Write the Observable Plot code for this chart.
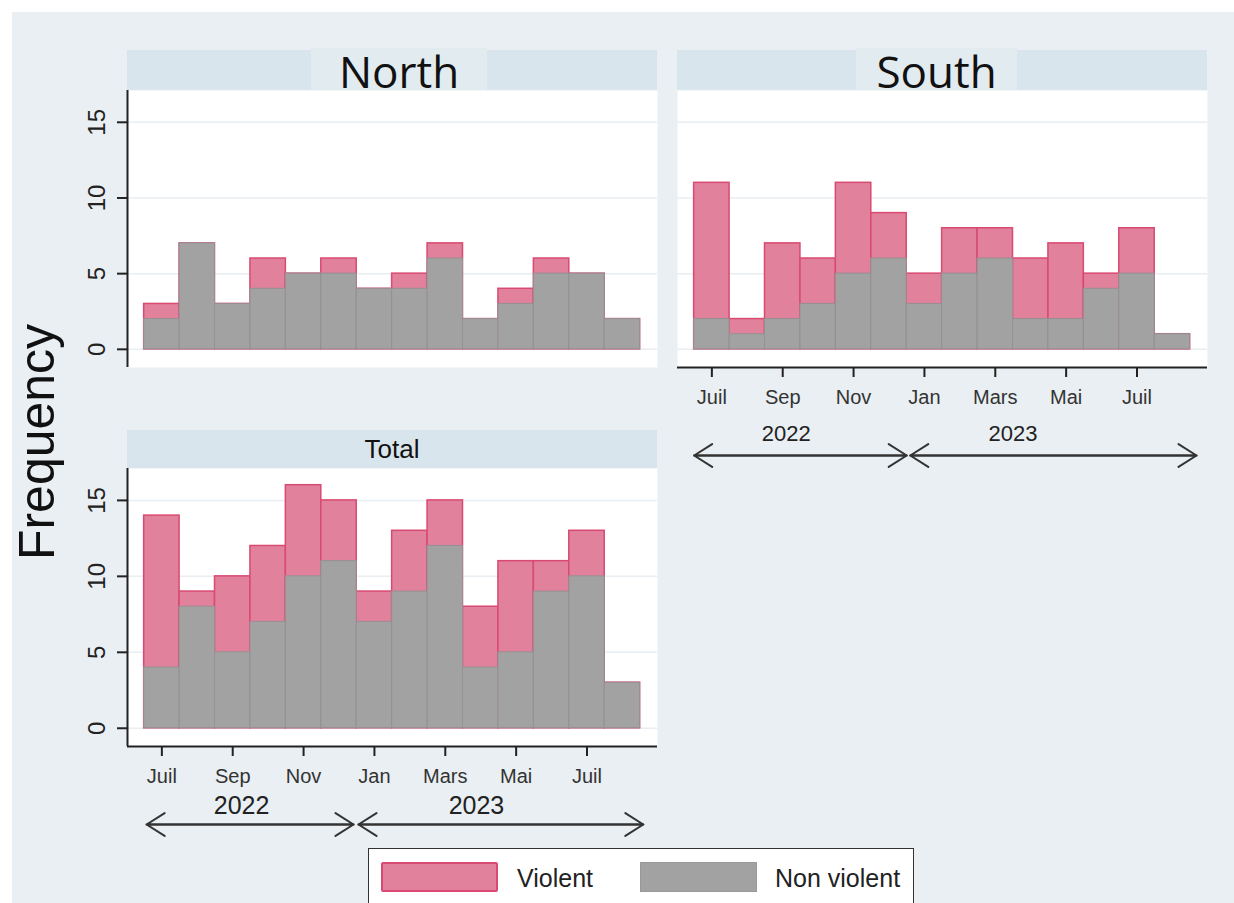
<!DOCTYPE html>
<html>
<head>
<meta charset="utf-8">
<script src="https://cdn.jsdelivr.net/npm/d3@7"></script>
<script src="https://cdn.jsdelivr.net/npm/@observablehq/plot@0.6"></script>
<style>
  html, body { margin: 0; padding: 0; background: #ffffff; width: 1234px; height: 903px; overflow: hidden; }
  #bg { position: absolute; left: 12px; top: 12px; width: 1222px; height: 891px; background: #e9eff2; }
  .strip { position: absolute; background: #d9e5ec; }
  .tbox { position: absolute; background: #e2ebf0; display: flex; align-items: center; justify-content: center;
          font-family: "Open Sans", "Noto Sans", sans-serif; font-size: 44px; color: #111; line-height: 1; }
  .tsmall { position: absolute; display: flex; align-items: center; justify-content: center;
          font-family: "Liberation Sans", Arial, sans-serif; font-size: 26px; color: #111; }
  .plotsvg { position: absolute; }
  #ylabel { position: absolute; left: 37px; top: 442px; transform: translate(-50%, -50%) rotate(-90deg);
            font-family: "Liberation Sans", Arial, sans-serif; font-size: 50px; color: #111; white-space: nowrap; }
  #legend { position: absolute; left: 368px; top: 848px; width: 546px; height: 62px; background: #fff;
            border: 1.5px solid #333; box-sizing: border-box; font-family: "Liberation Sans", Arial, sans-serif;
            font-size: 25px; color: #222; }
  .sw { position: absolute; top: 13px; height: 30px; box-sizing: border-box; }
  .lt { position: absolute; top: 14px; line-height: 30px; }
</style>
</head>
<body>
<div id="bg"></div>
<div id="root"></div>
<script>
// ---------------- data ----------------
const months = ["2022-07","2022-08","2022-09","2022-10","2022-11","2022-12","2023-01",
                "2023-02","2023-03","2023-04","2023-05","2023-06","2023-07","2023-08"];
// height of pink bars (all events, violent shown in pink above non violent)
const northAll        = [3, 7, 3, 6, 5, 6, 4, 5, 7, 2, 4, 6, 5, 2];
const northNonViolent = [2, 7, 3, 4, 5, 5, 4, 4, 6, 2, 3, 5, 5, 2];
const southAll        = [11, 2, 7, 6, 11, 9, 5, 8, 8, 6, 7, 5, 8, 1];
const southNonViolent = [2, 1, 2, 3, 5, 6, 3, 5, 6, 2, 2, 4, 5, 1];
const totalAll        = [14, 9, 10, 12, 16, 15, 9, 13, 15, 8, 11, 11, 13, 3];
const totalNonViolent = [4, 8, 5, 7, 10, 11, 7, 9, 12, 4, 5, 9, 10, 3];
const tickMonths = [0, 2, 4, 6, 8, 10, 12];
const tickLabels = ["Juil", "Sep", "Nov", "Jan", "Mars", "Mai", "Juil"];
const yTicks = [0, 5, 10, 15];
const years = ["2022", "2023"];
const panelTitles = ["North", "South", "Total"];
const legendLabels = ["Violent", "Non violent"];

// ---------------- style ----------------
const pinkFill = "#e1819b", pinkStroke = "#d94a72";
const grayFill = "#a2a2a2", grayStroke = "#978f93";
const xDomain = [-0.47, 14.49];
const yDomain = [-1.2, 17.1];
const font = "'Liberation Sans', Arial, sans-serif";

function panel({all, non, showY, showX, width, height, marginLeft, marginBottom,
                yearX, yearDy, yearSize, arrows, arrowDy}) {
  const data = months.map((m, i) => ({i, all: all[i], non: non[i]}));
  const marks = [
    Plot.frame({fill: "white", stroke: "none"}),
    Plot.ruleY(yTicks, {stroke: "#e8eef1", strokeWidth: 1.5}),
    Plot.rect(data, {x1: "i", x2: d => d.i + 1, y1: () => 0, y2: "all",
      fill: pinkFill, stroke: pinkStroke, strokeWidth: 1.5}),
    Plot.rect(data, {x1: "i", x2: d => d.i + 1, y1: () => 0, y2: "non",
      fill: grayFill, stroke: grayStroke, strokeWidth: 1})
  ];
  if (showY) {
    marks.push(Plot.ruleX([xDomain[0]], {stroke: "#222", strokeWidth: 2}));
    marks.push(Plot.axisY(yTicks, {tickSize: 10, tickPadding: 13, tickRotate: -90,
      fontSize: 24, fontFamily: font, fill: "#222", stroke: "#222", strokeWidth: 2, label: null}));
  }
  if (showX) {
    marks.push(Plot.ruleY([yDomain[0]], {stroke: "#222", strokeWidth: 2}));
    marks.push(Plot.axisX(tickMonths.map(m => m + 0.5), {
      tickSize: 10, tickPadding: 12, fontSize: 20, fontFamily: font, fill: "#333", stroke: "#222", strokeWidth: 2,
      tickFormat: d => tickLabels[tickMonths.indexOf(d - 0.5)], label: null}));
    marks.push(Plot.text(years, {x: (d, i) => yearX[i], frameAnchor: "bottom", dy: yearDy,
      text: d => d, fontSize: yearSize, fontFamily: font, fill: "#222", lineAnchor: "middle"}));
    const fwd = arrows.map(a => ({a: a[0], b: a[1]}));
    marks.push(Plot.arrow(fwd, {x1: "a", x2: "b", y1: () => yDomain[0], y2: () => yDomain[0], dy: arrowDy,
      stroke: "#333", strokeWidth: 2, headLength: 16, headAngle: 65}));
    marks.push(Plot.arrow(fwd, {x1: "b", x2: "a", y1: () => yDomain[0], y2: () => yDomain[0], dy: arrowDy,
      stroke: "#333", strokeWidth: 2, headLength: 16, headAngle: 65}));
  }
  return Plot.plot({
    width, height, marginLeft, marginRight: 0, marginTop: 0, marginBottom,
    x: {domain: xDomain, ...(showX ? {} : {axis: null})},
    y: {domain: yDomain, ...(showY ? {} : {axis: null})},
    style: {background: "transparent", overflow: "visible"},
    marks
  });
}

const root = document.getElementById("root");
function place(el, left, top) {
  el.classList.add("plotsvg");
  el.style.left = left + "px"; el.style.top = top + "px";
  root.appendChild(el);
}
function div(cls, left, top, w, h, text) {
  const d = document.createElement("div");
  d.className = cls;
  Object.assign(d.style, {left: left + "px", top: top + "px", width: w + "px", height: h + "px"});
  if (text) d.textContent = text;
  root.appendChild(d);
  return d;
}

// headers
div("strip", 127, 50, 530, 40);
div("tbox", 311, 48, 176, 45, panelTitles[0]);
div("strip", 677, 50, 530, 40);
div("tbox", 856, 48, 161, 45, panelTitles[1]);
div("strip", 127, 430, 530, 38);
div("tsmall", 127, 430, 530, 38, panelTitles[2]);

// North
place(panel({all: northAll, non: northNonViolent, showY: true, showX: false,
  width: 657, height: 277, marginLeft: 127, marginBottom: 0}), 0, 90);
// South
place(panel({all: southAll, non: southNonViolent, showY: false, showX: true,
  width: 530, height: 387, marginLeft: 0, marginBottom: 110,
  yearX: [2.6, 9.0], yearDy: 66, yearSize: 22, arrows: [[0.0, 6.0], [6.1, 14.18]], arrowDy: 88}), 677, 90);
// Total
place(panel({all: totalAll, non: totalNonViolent, showY: true, showX: true,
  width: 657, height: 378, marginLeft: 127, marginBottom: 100,
  yearX: [2.75, 9.38], yearDy: 59, yearSize: 25, arrows: [[0.07, 5.91], [6.05, 14.09]], arrowDy: 78}), 0, 468);

// y label
const yl = document.createElement("div");
yl.id = "ylabel"; yl.textContent = "Frequency";
root.appendChild(yl);

// legend
const lg = document.createElement("div");
lg.id = "legend";
lg.innerHTML = `
  <div class="sw" style="left:12px;width:117px;background:${pinkFill};border:2px solid ${pinkStroke};border-radius:2px"></div>
  <div class="lt" style="left:148px">${legendLabels[0]}</div>
  <div class="sw" style="left:271px;width:117px;background:${grayFill};border:1px solid #999"></div>
  <div class="lt" style="left:406px">${legendLabels[1]}</div>`;
root.appendChild(lg);
</script>
</body>
</html>
